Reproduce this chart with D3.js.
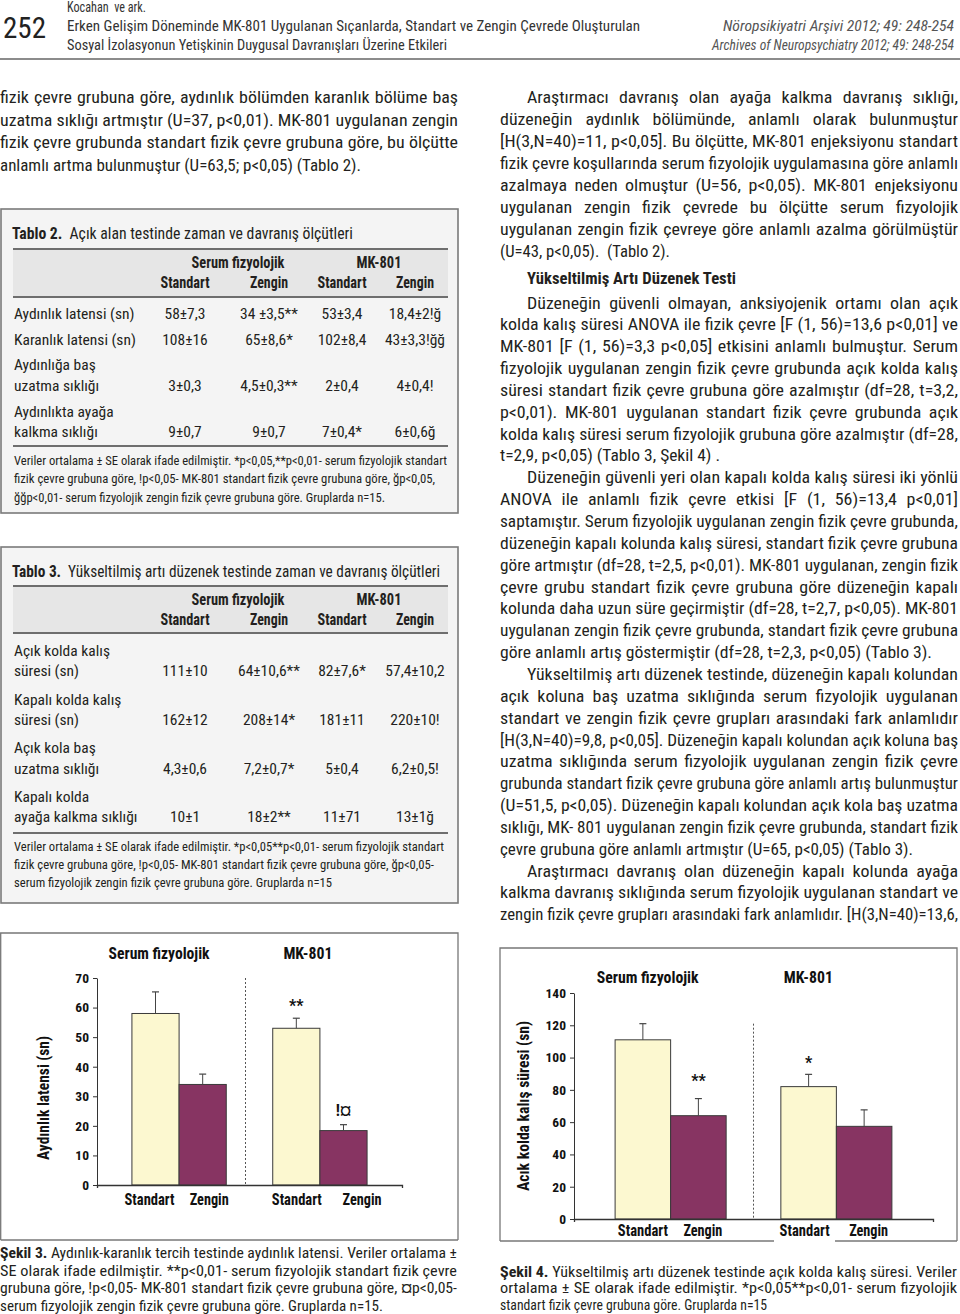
<!DOCTYPE html>
<html><head><meta charset="utf-8">
<script src="https://cdn.jsdelivr.net/npm/d3@7"></script>
<style>html,body{margin:0;padding:0;background:#fff}svg{display:block}</style>
</head><body><svg id="page" width="960" height="1314"></svg>
<script>
// ---------------- DATA ----------------
const groups = ["Serum fizyolojik", "MK-801"];
const envs = ["Standart", "Zengin"];

const fig3Means = [58, 34, 53, 18.4];
const fig3SE = [7.3, 3.5, 3.4, 2];
const fig3Marks = ["", "", "**", "!¤"];
const fig3Ticks = [0, 10, 20, 30, 40, 50, 60, 70];
const fig3YTitle = "Aydınlık latensi (sn)";

const fig4Means = [111, 64, 82, 57.4];
const fig4SE = [10, 10.6, 7.6, 10.2];
const fig4Marks = ["", "**", "*", ""];
const fig4Ticks = [0, 20, 40, 60, 80, 100, 120, 140];
const fig4YTitle = "Acık kolda kalış süresi (sn)";

const t2Labels = [["Aydınlık latensi (sn)"], ["Karanlık latensi (sn)"], ["Aydınlığa baş", "uzatma sıklığı"], ["Aydınlıkta ayağa", "kalkma sıklığı"]];
const t2Values = [["58±7,3", "34 ±3,5**", "53±3,4", "18,4±2!ğ"], ["108±16", "65±8,6*", "102±8,4", "43±3,3!ğğ"], ["3±0,3", "4,5±0,3**", "2±0,4", "4±0,4!"], ["9±0,7", "9±0,7", "7±0,4*", "6±0,6ğ"]];
const t2Notes = ["Veriler ortalama ± SE olarak ifade edilmiştir. *p<0,05,**p<0,01- serum fizyolojik standart", "fizik çevre grubuna göre, !p<0,05- MK-801 standart fizik çevre grubuna göre, ğp<0,05,", "ğğp<0,01- serum fizyolojik zengin fizik çevre grubuna göre. Gruplarda n=15."];

const t3Labels = [["Açık kolda kalış", "süresi (sn)"], ["Kapalı kolda kalış", "süresi (sn)"], ["Açık kola baş", "uzatma sıklığı"], ["Kapalı kolda", "ayağa kalkma sıklığı"]];
const t3Values = [["111±10", "64±10,6**", "82±7,6*", "57,4±10,2"], ["162±12", "208±14*", "181±11", "220±10!"], ["4,3±0,6", "7,2±0,7*", "5±0,4", "6,2±0,5!"], ["10±1", "18±2**", "11±71", "13±1ğ"]];
const t3Notes = ["Veriler ortalama ± SE olarak ifade edilmiştir. *p<0,05**p<0,01- serum fizyolojik standart", "fizik çevre grubuna göre, !p<0,05- MK-801 standart fizik çevre grubuna göre, ğp<0,05-", "serum fizyolojik zengin fizik çevre grubuna göre. Gruplarda n=15"];

const leftPara = ["fizik çevre grubuna göre, aydınlık bölümden karanlık bölüme baş", "uzatma sıklığı artmıştır (U=37, p<0,01). MK-801 uygulanan zengin", "fizik çevre grubunda standart fizik çevre grubuna göre, bu ölçütte", "anlamlı artma bulunmuştur (U=63,5; p<0,05) (Tablo 2)."];

const rightPara1 = ["Araştırmacı davranış olan ayağa kalkma davranış sıklığı,", "düzeneğin aydınlık bölümünde, anlamlı olarak bulunmuştur", "[H(3,N=40)=11, p<0,05]. Bu ölçütte, MK-801 enjeksiyonu standart", "fizik çevre koşullarında serum fizyolojik uygulamasına göre anlamlı", "azalmaya neden olmuştur (U=56, p<0,05). MK-801 enjeksiyonu", "uygulanan zengin fizik çevrede bu ölçütte serum fizyolojik", "uygulanan zengin fizik çevreye göre anlamlı azalma görülmüştür", "(U=43, p<0,05).  (Tablo 2)."];
const rightHeading = "Yükseltilmiş Artı Düzenek Testi";
const rightPara2 = ["Düzeneğin güvenli olmayan, anksiyojenik ortamı olan açık", "kolda kalış süresi ANOVA ile fizik çevre [F (1, 56)=13,6 p<0,01] ve", "MK-801 [F (1, 56)=3,3 p<0,05] etkisini anlamlı bulmuştur. Serum", "fizyolojik uygulanan zengin fizik çevre grubunda açık kolda kalış", "süresi standart fizik çevre grubuna göre azalmıştır (df=28, t=3,2,", "p<0,01). MK-801 uygulanan standart fizik çevre grubunda açık", "kolda kalış süresi serum fizyolojik grubuna göre azalmıştır (df=28,", "t=2,9, p<0,05) (Tablo 3, Şekil 4) .", "Düzeneğin güvenli yeri olan kapalı kolda kalış süresi iki yönlü", "ANOVA ile anlamlı fizik çevre etkisi [F (1, 56)=13,4 p<0,01]", "saptamıştır. Serum fizyolojik uygulanan zengin fizik çevre grubunda,", "düzeneğin kapalı kolunda kalış süresi, standart fizik çevre grubuna", "göre artmıştır (df=28, t=2,5, p<0,01). MK-801 uygulanan, zengin fizik", "çevre grubu standart fizik çevre grubuna göre düzeneğin kapalı", "kolunda daha uzun süre geçirmiştir (df=28, t=2,7, p<0,05). MK-801", "uygulanan zengin fizik çevre grubunda, standart fizik çevre grubuna", "göre anlamlı artış göstermiştir (df=28, t=2,3, p<0,05) (Tablo 3).", "Yükseltilmiş artı düzenek testinde, düzeneğin kapalı kolundan", "açık koluna baş uzatma sıklığında serum fizyolojik uygulanan", "standart ve zengin fizik çevre grupları arasındaki fark anlamlıdır", "[H(3,N=40)=9,8, p<0,05]. Düzeneğin kapalı kolundan açık koluna baş", "uzatma sıklığında serum fizyolojik uygulanan zengin fizik çevre", "grubunda standart fizik çevre grubuna göre anlamlı artış bulunmuştur", "(U=51,5, p<0,05). Düzeneğin kapalı kolundan açık kola baş uzatma", "sıklığı, MK- 801 uygulanan zengin fizik çevre grubunda, standart fizik", "çevre grubuna göre anlamlı artmıştır (U=65, p<0,05) (Tablo 3).", "Araştırmacı davranış olan düzeneğin kapalı kolunda ayağa", "kalkma davranış sıklığında serum fizyolojik uygulanan standart ve", "zengin fizik çevre grupları arasındaki fark anlamlıdır. [H(3,N=40)=13,6,"];
const rightIndents = [0, 8, 17, 26];
const rightLastWidths = {7: 220, 16: 432, 25: 413};

const cap3 = [[{t: "Şekil 3.", b: 1}, " Aydınlık-karanlık tercih testinde aydınlık latensi. Veriler ortalama ±"], ["SE olarak ifade edilmiştir. **p<0,01- serum fizyolojik standart fizik çevre"], ["grubuna göre, !p<0,05- MK-801 standart fizik çevre grubuna göre, ¤p<0,05-"], ["serum fizyolojik zengin fizik çevre grubuna göre. Gruplarda n=15."]];
const cap4 = [[{t: "Şekil 4.", b: 1}, " Yükseltilmiş artı düzenek testinde açık kolda kalış süresi. Veriler"], ["ortalama ± SE olarak ifade edilmiştir. *p<0,05**p<0,01- serum fizyolojik"], ["standart fizik çevre grubuna göre. Gruplarda n=15"]];

// ---------------- HELPERS ----------------
const FONT = "'Liberation Sans Narrow','Roboto Condensed','DejaVu Sans Condensed','Arial Narrow',sans-serif";
const INK = "#231f20";
const svg = d3.select("#page");

// justify a line to `width`: glyphs are widened by up to k, the rest goes into word spacing
function fit(t, width, k) {
  const node = t.node();
  const w = node.getComputedTextLength();
  const spaces = (node.textContent.match(/ /g) || []).length;
  let kk = Math.min(k, width / w);
  if (!spaces) kk = width / w;
  const ws = spaces ? Math.max(0, (width / kk - w) / spaces) : 0;
  if (ws > 0) t.style("word-spacing", ws + "px");
  t.attr("textLength", width).attr("lengthAdjust", "spacingAndGlyphs");
  return t;
}
function addText(g, x, y, parts, o = {}) {
  const t = g.append("text").attr("x", x).attr("y", y)
    .attr("font-family", o.family || FONT).attr("font-size", o.size || 16)
    .attr("fill", o.fill || INK).attr("text-anchor", o.anchor || "start")
    .style("white-space", "pre");
  if (o.italic) t.attr("font-style", "italic");
  if (o.bold) t.attr("font-weight", "bold");
  (Array.isArray(parts) ? parts : [parts]).forEach(p => {
    if (typeof p === "string") t.append("tspan").text(p);
    else t.append("tspan").attr("font-weight", p.b ? "bold" : null).text(p.t);
  });
  if (o.width) fit(t, o.width, o.k || 1.12);
  else if (o.k) {
    const w = t.node().getComputedTextLength();
    t.attr("textLength", w * o.k).attr("lengthAdjust", "spacingAndGlyphs");
  }
  return t;
}

// ---------------- HEADER ----------------
const hdr = svg.append("g");
addText(hdr, 3, 38, "252", {size: 30, fill: "#222", width: 43});
addText(hdr, 67, 12, "Kocahan  ve ark.", {size: 14, fill: "#333", width: 79});
addText(hdr, 67, 31, "Erken Gelişim Döneminde MK-801 Uygulanan Sıçanlarda, Standart ve Zengin Çevrede Oluşturulan", {size: 14.5, fill: "#333", width: 573});
addText(hdr, 67, 50, "Sosyal İzolasyonun Yetişkinin Duygusal Davranışları Üzerine Etkileri", {size: 14.5, fill: "#333", width: 380});
addText(hdr, 723, 31, "Nöropsikiyatri Arşivi 2012; 49: 248-254", {size: 14.5, fill: "#555", italic: 1, width: 231});
addText(hdr, 712, 50, "Archives of Neuropsychiatry 2012; 49: 248-254", {size: 14.5, fill: "#555", italic: 1, width: 242});
hdr.append("line").attr("x1", 0).attr("x2", 960).attr("y1", 59).attr("y2", 59).attr("stroke", "#666").attr("stroke-width", 1.5);

// ---------------- LEFT COLUMN TEXT ----------------
const lc = svg.append("g");
leftPara.forEach((s, i) => {
  addText(lc, 0, 97.5 + 22.7 * i + 5.5, s, {size: 16, width: i < leftPara.length - 1 ? 458 : 361});
});

// ---------------- RIGHT COLUMN TEXT ----------------
const rc = svg.append("g");
rightPara1.forEach((s, i) => {
  const ind = i === 0 ? 27 : 0;
  addText(rc, 500 + ind, 97 + 22.1 * i + 5.5, s, {size: 16, width: i < rightPara1.length - 1 ? 458 - ind : 170});
});
addText(rc, 527, 278 + 5.5, rightHeading, {size: 16, bold: 1, width: 209});
rightPara2.forEach((s, i) => {
  const ind = rightIndents.includes(i) ? 27 : 0;
  const w = rightLastWidths[i] !== undefined ? rightLastWidths[i] - ind : 458 - ind;
  addText(rc, 500 + ind, 303 + 21.85 * i + 5.5, s, {size: 16, width: w});
});

// ---------------- TABLES ----------------
const colX = [185, 269, 342, 415];
const headW = {"Serum fizyolojik": 93, "MK-801": 45, "Standart": 49, "Zengin": 38};
function drawTable(cfg) {
  const g = svg.append("g");
  g.append("rect").attr("x", 1).attr("y", cfg.top).attr("width", 457).attr("height", cfg.bottom - cfg.top)
    .attr("fill", "#f4f4f4").attr("stroke", "#7a7a7a").attr("stroke-width", 1.6);
  addText(g, 12, cfg.titleY + 5.5, [{t: cfg.tag, b: 1}, "  " + cfg.title], {size: 16, width: cfg.titleW});
  g.append("rect").attr("x", 13).attr("y", cfg.band[0]).attr("width", 435).attr("height", cfg.band[1] - cfg.band[0]).attr("fill", "#e6e6e6");
  [cfg.band[0], cfg.band[1], cfg.rule].forEach(y =>
    g.append("line").attr("x1", 13).attr("x2", 448).attr("y1", y).attr("y2", y).attr("stroke", "#6e6e6e").attr("stroke-width", 2));
  addText(g, 238, cfg.headY[0] + 5.5, groups[0], {size: 16, bold: 1, anchor: "middle", width: headW[groups[0]]});
  addText(g, 379, cfg.headY[0] + 5.5, groups[1], {size: 16, bold: 1, anchor: "middle", width: headW[groups[1]]});
  colX.forEach((x, j) => addText(g, x, cfg.headY[1] + 5.5, envs[j % 2], {size: 16, bold: 1, anchor: "middle", width: headW[envs[j % 2]]}));
  cfg.labels.forEach((lab, r) => {
    const ys = cfg.rowY[r];
    lab.forEach((s, k) => addText(g, 14, ys[k] + 5.5, s, {size: 15.5}));
    cfg.values[r].forEach((v, j) => addText(g, colX[j], ys[ys.length - 1] + 5.5, v, {size: 15.5, anchor: "middle"}));
  });
  cfg.notes.forEach((s, i) => addText(g, 14, cfg.noteY[i] + 4.5, s, {size: 13, width: cfg.noteW[i], k: 1.1}));
}
drawTable({tag: "Tablo 2.", title: "Açık alan testinde zaman ve davranış ölçütleri", titleW: 341, top: 209, bottom: 513, titleY: 233,
  band: [249, 297], headY: [262, 282], rule: 446, labels: t2Labels, values: t2Values,
  rowY: [[313], [339], [364, 385], [411, 431]], notes: t2Notes, noteY: [460, 478, 497], noteW: [433, 421, 371]});
drawTable({tag: "Tablo 3.", title: "Yükseltilmiş artı düzenek testinde zaman ve davranış ölçütleri", titleW: 428, top: 547, bottom: 903, titleY: 571,
  band: [586, 633], headY: [599, 619], rule: 833, labels: t3Labels, values: t3Values,
  rowY: [[650, 670], [699, 719], [747, 768], [796, 816]], notes: t3Notes, noteY: [846, 864, 882], noteW: [430, 420, 318]});

// ---------------- CHARTS ----------------
function drawChart(c) {
  const g = svg.append("g");
  const [bx0, by0, bx1, by1] = c.box;
  g.append("path").attr("d", `M${bx0},${by1}V${by0}H${bx1}V${by1}`).attr("fill", "none").attr("stroke", "#777").attr("stroke-width", 1.3);
  c.bottomSegs.forEach(([a, b]) => g.append("line").attr("x1", a).attr("x2", b).attr("y1", by1).attr("y2", by1).attr("stroke", "#777").attr("stroke-width", 1.3));

  const y = d3.scaleLinear().domain([0, c.ticks[c.ticks.length - 1]]).range([c.y0, c.yTop]);
  const xg = d3.scaleBand().domain(groups).range([c.x0, c.x1]).paddingInner(0.33).paddingOuter(0.248);
  const xe = d3.scaleBand().domain(envs).range([0, xg.bandwidth()]).padding(0);
  const bars = [];
  groups.forEach((gr, gi) => envs.forEach((en, ei) => {
    const i = gi * 2 + ei;
    bars.push({gr, en, i, m: c.means[i], se: c.se[i], mark: c.marks[i]});
  }));
  const bx = d => xg(d.gr) + xe(d.en);

  const divX = (xg(groups[0]) + xg.bandwidth() + xg(groups[1])) / 2 + c.divOff;
  g.append("line").attr("x1", divX).attr("x2", divX).attr("y1", y(c.divTop)).attr("y2", c.y0)
    .attr("stroke", "#555").attr("stroke-width", 1).attr("stroke-dasharray", "2,2");

  g.selectAll(".bar").data(bars).join("rect")
    .attr("x", bx).attr("width", xe.bandwidth()).attr("y", d => y(d.m)).attr("height", d => y(0) - y(d.m))
    .attr("fill", d => d.en === envs[0] ? "#fcf8d0" : "#873462").attr("stroke", "#3a3a3a").attr("stroke-width", 1);
  bars.forEach(d => {
    const cx = bx(d) + xe.bandwidth() / 2;
    g.append("line").attr("x1", cx).attr("x2", cx).attr("y1", y(d.m)).attr("y2", y(d.m + d.se)).attr("stroke", "#444").attr("stroke-width", 1);
    g.append("line").attr("x1", cx - 3.5).attr("x2", cx + 3.5).attr("y1", y(d.m + d.se)).attr("y2", y(d.m + d.se)).attr("stroke", "#444").attr("stroke-width", 1.2);
    if (d.mark) addText(g, cx, y(d.m + d.se) - c.markGap[d.i], d.mark, {size: 16, bold: 1, anchor: "middle", fill: "#111"});
  });

  const ya = g.append("g").attr("transform", `translate(${c.x0},0)`)
    .call(d3.axisLeft(y).tickValues(c.ticks).tickSize(4).tickSizeOuter(0).tickPadding(4));
  ya.select(".domain").attr("stroke", "#333");
  ya.selectAll(".tick line").attr("stroke", "#333");
  ya.selectAll("text").attr("font-family", FONT).attr("font-size", 13.5).attr("font-weight", "bold").attr("fill", "#111");
  const xl = d3.scaleLinear().domain([0, 1]).range([c.x0, c.x1]);
  const xa = g.append("g").attr("transform", `translate(0,${c.y0})`).call(d3.axisBottom(xl).ticks(0).tickSizeOuter(3));
  xa.select(".domain").attr("stroke", "#333").attr("stroke-width", 1.3);
  xa.selectAll(".tick").remove();

  bars.forEach(d => addText(g, bx(d) + xe.bandwidth() / 2 + c.labOff[d.i], c.labY, d.en, {size: 16, bold: 1, anchor: "middle", fill: "#111", width: d.en === envs[0] ? 50 : 39}));
  groups.forEach((gr, gi) => addText(g, xg(gr) + xg.bandwidth() / 2 + c.titleOff[gi], c.titleY, gr, {size: 16, bold: 1, anchor: "middle", fill: "#111", width: c.titleW[gi]}));
  addText(g, 0, 0, c.yTitle, {size: 17, bold: 1, anchor: "middle", fill: "#111", width: c.yTitleW})
    .attr("transform", `translate(${c.yTitleX},${c.yTitleY}) rotate(-90)`);
}

drawChart({box: [0.7, 933, 458, 1240], bottomSegs: [[0.7, 458]], x0: 97, x1: 402, y0: 1185, yTop: 978,
  ticks: fig3Ticks, means: fig3Means, se: fig3SE, marks: fig3Marks, markGap: [0, 0, 7, 9],
  divTop: 70, divOff: -4, labY: 1205, labOff: [-6, 6.5, 0.5, 18.5], titleY: 959, titleOff: [-20, -12], titleW: [101, 49],
  yTitle: fig3YTitle, yTitleX: 49, yTitleY: 1098, yTitleW: 124});

drawChart({box: [500, 948, 957, 1241], bottomSegs: [[500, 774], [835, 957]], x0: 574, x1: 933, y0: 1219, yTop: 993,
  ticks: fig4Ticks, means: fig4Means, se: fig4SE, marks: fig4Marks, markGap: [0, 13, 6, 0],
  divTop: 121, divOff: 0, labY: 1236, labOff: [0, 4.5, -4, 4.5], titleY: 983, titleOff: [-23, -28], titleW: [102, 49],
  yTitle: fig4YTitle, yTitleX: 529, yTitleY: 1106, yTitleW: 170});

// ---------------- CAPTIONS ----------------
const capG = svg.append("g");
cap3.forEach((p, i) => addText(capG, 0, 1253 + 17.5 * i + 5, p, {size: 14.5, width: i < cap3.length - 1 ? 457 : 383}));
cap4.forEach((p, i) => addText(capG, 500, 1272 + 16.6 * i + 4.5, p, {size: 14.5, width: i < cap4.length - 1 ? 457 : 267}));
</script>
</body></html>
